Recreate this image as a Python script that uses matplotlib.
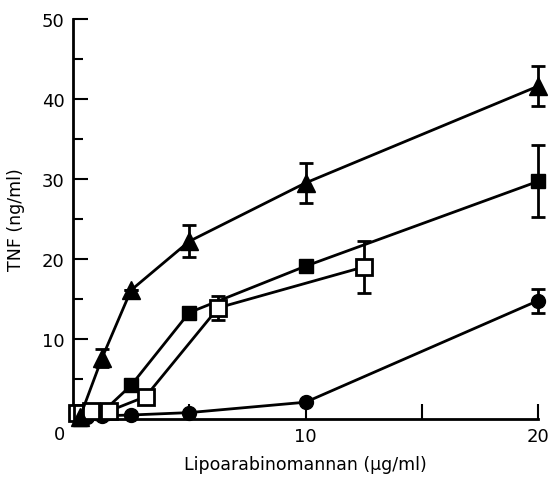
import matplotlib.pyplot as plt

# LAM concentration (ug/ml) and TNF (ng/ml)
tri_x = [0.3125, 1.25, 2.5, 5, 10, 20]
tri_y = [0.3, 7.6, 16.1, 22.2, 29.5, 41.6]
tri_err = [0, 1.1, 0, 2.0, 2.5, 2.5]

fsq_x = [0.3125, 1.25, 2.5, 5, 10, 20]
fsq_y = [0.0, 0.8, 4.2, 13.3, 19.1, 29.7]
fsq_err = [0, 0, 0, 0, 0, 4.5]

osq_x = [0.195, 0.39, 0.78, 1.56, 3.125, 6.25, 12.5]
osq_y = [0.8, 0.8, 1.0, 1.0, 2.8, 13.9, 19.0]
osq_err = [0, 0, 0, 0, 0, 1.5, 3.3]

circ_x = [0.625, 1.25, 2.5, 5, 10, 20]
circ_y = [0.2, 0.4, 0.5, 0.8, 2.1, 14.8]
circ_err = [0, 0, 0, 0, 0, 1.5]

plt.rcParams['font.family'] = ['DejaVu Sans']

fig = plt.figure(figsize=(5.52, 4.85), dpi=100)
ax = fig.add_axes([0.132, 0.134, 0.843, 0.825])

common = dict(color='black', lw=2, capsize=5, capthick=2, elinewidth=2)
series = [
    (circ_x, circ_y, circ_err, dict(marker='o', ms=10, mfc='black')),
    (fsq_x, fsq_y, fsq_err, dict(marker='s', ms=10, mfc='black')),
    (osq_x, osq_y, osq_err, dict(marker='s', ms=12, mfc='white', mew=2)),
    (tri_x, tri_y, tri_err, dict(marker='^', ms=13, mfc='black')),
]
for xs, ys, es, style in series:
    cont = ax.errorbar(xs, ys, yerr=es, **common, **style)
    line, caps, bars = cont.lines
    for art in [line, *caps, *bars]:
        art.set_clip_on(False)

ax.set_xlim(0, 20)
ax.set_ylim(0, 50)
ax.spines['top'].set_visible(False)
ax.spines['right'].set_visible(False)
ax.spines['left'].set_linewidth(2)
ax.spines['bottom'].set_linewidth(2)

ax.set_xticks([0, 5, 10, 15, 20])
ax.set_xticklabels(['', '', '10', '', '20'])
ax.set_yticks([0, 10, 20, 30, 40, 50])
ax.set_yticklabels(['', '10', '20', '30', '40', '50'])
ax.set_yticks([5, 15, 25, 35, 45], minor=True)
ax.tick_params(axis='both', which='major', direction='in', length=11, width=1.5,
               labelsize=13, pad=6)
ax.tick_params(axis='y', which='minor', direction='in', length=7, width=1.5)
ax.text(-0.35, -0.8, '0', ha='right', va='top', fontsize=13)

ax.set_xlabel('Lipoarabinomannan (μg/ml)', fontsize=12.5, labelpad=7)
ax.set_ylabel('TNF (ng/ml)', fontsize=12.5, labelpad=12)

for sp in ax.spines.values():
    sp.set_zorder(0)

fig.savefig('out.png', dpi=100)
